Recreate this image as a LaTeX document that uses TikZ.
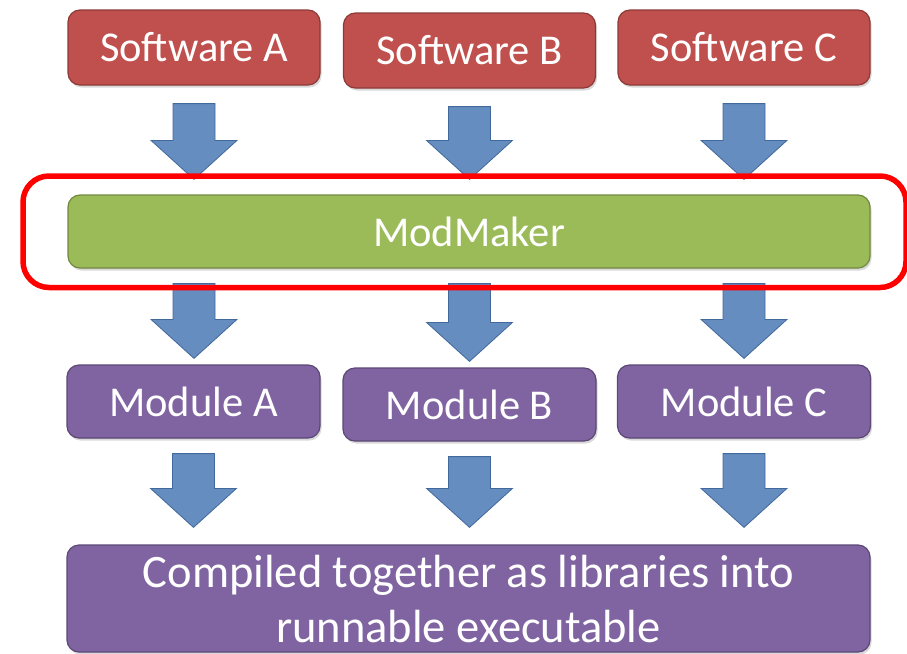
\documentclass[tikz,border=0pt]{standalone}
\usepackage{fontspec}
\setmainfont{Carlito}
\usetikzlibrary{calc,shadows}

\definecolor{softred}{HTML}{C0504D}
\definecolor{softredline}{HTML}{8C3A38}
\definecolor{makergreen}{HTML}{9BBB59}
\definecolor{makergreenline}{HTML}{71893F}
\definecolor{modpurple}{HTML}{8064A2}
\definecolor{modpurpleline}{HTML}{5C4776}
\definecolor{flowblue}{HTML}{668DC0}
\definecolor{flowblueline}{HTML}{41699B}

\tikzset{
  box/.style={rounded corners=12pt, line width=1.2pt, text=white,
    font=\fontsize{42.5}{52}\selectfont, inner sep=0pt,
    drop shadow={shadow xshift=1.5pt, shadow yshift=-2.5pt, opacity=0.3}},
  softbox/.style={box, fill=softred, draw=softredline,
    minimum width=252pt, minimum height=75pt},
  modbox/.style={box, fill=modpurple, draw=modpurpleline,
    minimum width=253pt, minimum height=73pt},
  makerbox/.style={box, fill=makergreen, draw=makergreenline,
    minimum width=802pt, minimum height=73pt},
  blkarrow/.style={fill=flowblue, draw=flowblueline, line width=0.8pt, line join=miter}
}

% block arrow from shaft top #1 down to tip #2
\newcommand{\blockarrow}[2]{%
  \draw[blkarrow] let \p1=(#1), \p2=(#2) in
    (\x1-21pt,\y1) -- (\x1+21pt,\y1) -- (\x1+21pt,\y2+39pt) -- (\x1+43pt,\y2+39pt)
    -- (\x1,\y2) -- (\x1-43pt,\y2+39pt) -- (\x1-21pt,\y2+39pt) -- cycle;}

\begin{document}
\begin{tikzpicture}[x=1pt,y=-1pt]
  \useasboundingbox (0,0) rectangle (907,653);

  % sources
  \node[softbox] (swa) at (194,47.5)   {Software A};
  \node[softbox] (swb) at (469.5,50.5) {Software B};
  \node[softbox] (swc) at (744,47.5)   {Software C};

  % tool
  \node[makerbox] (maker) at (469,231.5) {ModMaker};

  % modules
  \node[modbox] (moda) at (193.5,401.5) {Module A};
  \node[modbox] (modb) at (469.5,404.5) {Module B};
  \node[modbox] (modc) at (744,401.5)   {Module C};

  % result
  \node[box, fill=modpurple, draw=modpurpleline, minimum width=803pt,
    minimum height=107pt, align=center, font=\fontsize{46.5}{55}\selectfont,
    text height=87pt, text depth=0pt] (exe) at (468.5,598.5)
    {Compiled together as libraries into\\runnable executable};

  % arrows
  \foreach \src/\dst in {swa/moda, swb/modb, swc/modc}{
    \coordinate (top) at ($(\src.south)+(0,18)$);
    \coordinate (tip) at (top |- maker.north);
    \blockarrow{top}{$(tip)+(0,-15)$}
    \coordinate (top) at (top |- maker.south);
    \coordinate (tip) at (top |- \dst.north);
    \blockarrow{$(top)+(0,15)$}{$(tip)+(0,-6)$}
    \coordinate (top) at ($(\dst.south)+(0,15)$);
    \coordinate (tip) at (top |- exe.north);
    \blockarrow{top}{$(tip)+(0,-17)$}
  }

  % highlight frame
  \draw[red, line width=5.5pt, rounded corners=26pt] (23,176) rectangle (906,287.5);
\end{tikzpicture}
\end{document}
